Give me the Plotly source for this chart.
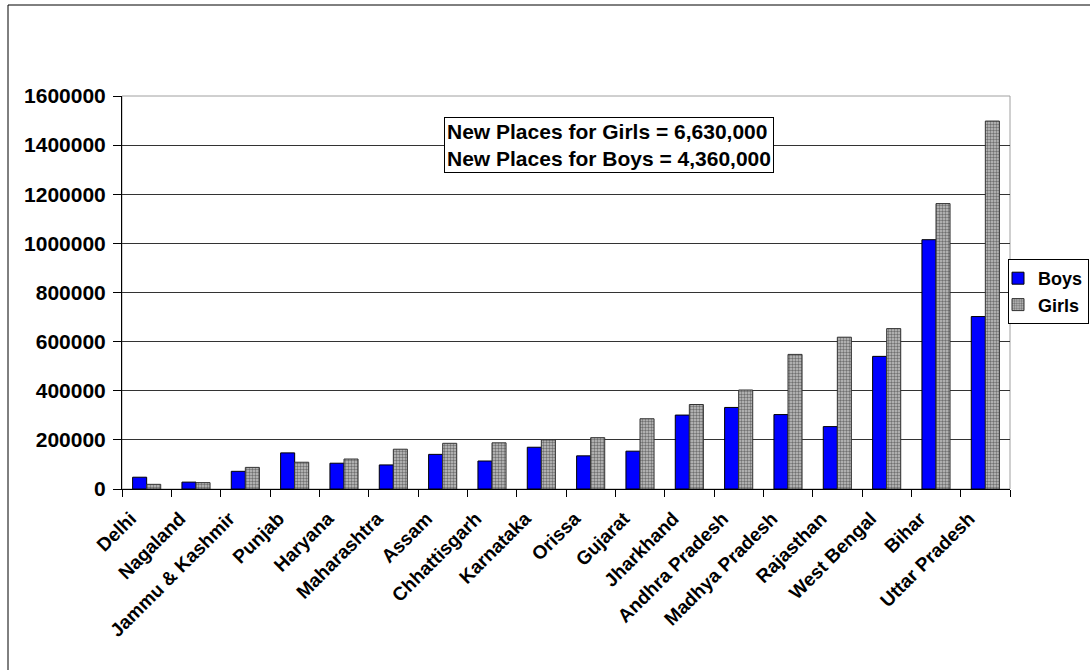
import plotly.graph_objects as go

states = ["Delhi", "Nagaland", "Jammu & Kashmir", "Punjab", "Haryana", "Maharashtra",
          "Assam", "Chhattisgarh", "Karnataka", "Orissa", "Gujarat", "Jharkhand",
          "Andhra Pradesh", "Madhya Pradesh", "Rajasthan", "West Bengal", "Bihar",
          "Uttar Pradesh"]
boys = [48000, 28000, 72000, 147000, 105000, 98000, 141000, 114000, 170000, 135000,
        154000, 301000, 332000, 303000, 254000, 540000, 1015000, 702000]
girls = [19000, 26000, 88000, 109000, 122000, 162000, 186000, 188000, 200000, 209000,
         286000, 344000, 403000, 548000, 618000, 653000, 1162000, 1498000]
y_ticks = list(range(0, 1600001, 200000))
note_lines = ["New Places for Girls = 6,630,000", "New Places for Boys = 4,360,000"]

FONT = "Liberation Sans, Arial, sans-serif"

fig = go.Figure()
fig.add_trace(go.Bar(
    name="Boys", x=states, y=boys,
    marker=dict(color="#0000FF", line=dict(color="black", width=1)),
))
fig.add_trace(go.Bar(
    name="Girls", x=states, y=girls,
    marker=dict(color="#A0A0A0", line=dict(color="#333333", width=1),
                pattern=dict(shape=".", fgcolor="#707070", bgcolor="#c4c4c4",
                             size=3, solidity=0.5, fillmode="replace")),
))

L, R, T, B = 122, 80, 96, 181
W, H = 1090, 670
pw = W - L - R
ph = H - T - B

def px_x(x):
    return (x - L) / pw

def px_y(y):
    return (H - B - y) / ph

fig.update_layout(
    width=W, height=H,
    margin=dict(l=L, r=R, t=T, b=B, pad=0, autoexpand=False),
    paper_bgcolor="white", plot_bgcolor="white",
    font=dict(family=FONT, color="black"),
    barmode="group", bargap=0.43, bargroupgap=0,
    showlegend=True,
    legend=dict(
        xref="container", yref="container",
        x=1008 / W, xanchor="left", y=1 - 259 / H, yanchor="top",
        bordercolor="black", borderwidth=1, bgcolor="white",
        font=dict(family=FONT, size=18, weight="bold"),
        itemwidth=30, tracegroupgap=0, indentation=-11,
    ),
    xaxis=dict(
        type="category", tickangle=-45,
        tickfont=dict(family=FONT, size=19, weight="bold"),
        ticklabelshift=-16, ticklabelstandoff=10,
        showline=True, linecolor="black", linewidth=1,
        ticks="outside", tickson="boundaries", ticklen=7, tickcolor="black",
        showgrid=False, fixedrange=True,
    ),
    yaxis=dict(
        range=[0, 1600000], tickvals=y_ticks, tickformat="d",
        tickfont=dict(family=FONT, size=21, weight="bold"),
        ticklabelstandoff=3,
        showline=True, linecolor="black", linewidth=1,
        ticks="outside", ticklen=8, tickcolor="black",
        showgrid=True, gridcolor="#333333", gridwidth=1,
        zeroline=False, fixedrange=True,
    ),
    shapes=[
        dict(type="rect", xref="paper", yref="paper", x0=0, x1=1, y0=0, y1=1,
             line=dict(color="#A0A0A0", width=1), layer="below"),
        dict(type="rect", xref="paper", yref="paper",
             x0=px_x(8), x1=1.3, y0=-0.6, y1=px_y(5),
             line=dict(color="black", width=1), layer="below"),
    ],
    annotations=[
        dict(xref="paper", yref="paper", x=px_x(608.5), y=px_y(144.5),
             xanchor="center", yanchor="middle", showarrow=False,
             text="<br>".join(note_lines), align="left",
             font=dict(family=FONT, size=21, weight="bold"),
             bordercolor="black", borderwidth=1, borderpad=2, bgcolor="white"),
    ],
)

fig.write_html("out.html", config={"displayModeBar": False},
               post_script="document.body.style.margin='0';document.body.style.overflow='hidden';")
